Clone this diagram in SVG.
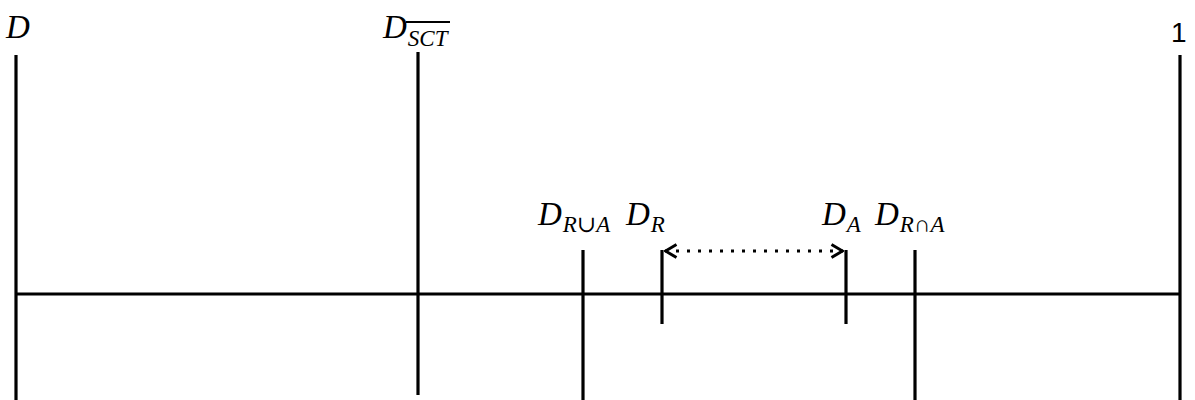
<svg xmlns="http://www.w3.org/2000/svg" width="1195" height="400" viewBox="0 0 1195 400">
<style>
.ln{stroke:#000;stroke-width:3.2;fill:none}
.t{font-family:"Liberation Serif","DejaVu Serif",serif;font-style:italic;font-size:33px;fill:#000}
.s{font-size:23px}
</style>
<defs>
<marker id="ah" viewBox="0 0 14 16" refX="13" refY="8" markerWidth="14" markerHeight="16" markerUnits="userSpaceOnUse" orient="auto-start-reverse">
<path d="M1.5,1.5 L12.5,8 L1.5,14.5" fill="none" stroke="#000" stroke-width="3"/>
</marker>
</defs>
<g id="connectors">
<line class="ln" x1="15" y1="294" x2="1181" y2="294"/>
<line x1="665" y1="251" x2="843" y2="251" stroke="#000" stroke-width="3" stroke-dasharray="3,8" marker-start="url(#ah)" marker-end="url(#ah)"/>
</g>
<g id="D"><line class="ln" x1="16" y1="55" x2="16" y2="400"/><text class="t" x="6" y="38">D</text></g>
<g id="DSCT"><line class="ln" x1="418" y1="52" x2="418" y2="395"/><text class="t" x="383" y="38">D<tspan class="s" dx="1" dy="8">SCT</tspan></text><line x1="406" y1="22" x2="450" y2="22" stroke="#000" stroke-width="1.8"/></g>
<g id="one"><line class="ln" x1="1180" y1="55" x2="1180" y2="400"/><text x="1171" y="42" font-family="'Liberation Sans','Open Sans',sans-serif" font-size="28">1</text></g>
<g id="DRuA"><line class="ln" x1="583" y1="250" x2="583" y2="400"/><text class="t" x="538" y="225">D<tspan class="s" dx="1" dy="7">R∪A</tspan></text></g>
<g id="DR"><line class="ln" x1="662" y1="250" x2="662" y2="324"/><text class="t" x="626" y="225">D<tspan class="s" dx="1" dy="7">R</tspan></text></g>
<g id="DA"><line class="ln" x1="846" y1="250" x2="846" y2="324"/><text class="t" x="822" y="225">D<tspan class="s" dx="1" dy="7">A</tspan></text></g>
<g id="DRnA"><line class="ln" x1="915" y1="250" x2="915" y2="400"/><text class="t" x="875" y="225">D<tspan class="s" dx="1" dy="7">R∩A</tspan></text></g>
</svg>
